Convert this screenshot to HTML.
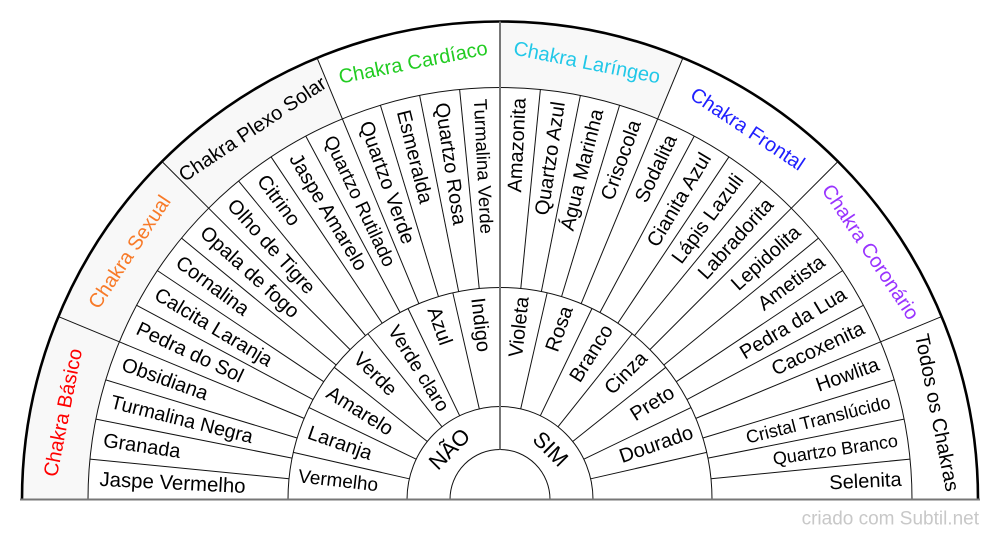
<!DOCTYPE html>
<html>
<head>
<meta charset="utf-8">
<style>
html,body{margin:0;padding:0;background:#fff;}
svg{display:block;}
text{font-family:"Liberation Sans",Arial,sans-serif;dominant-baseline:central;}
</style>
</head>
<body>
<svg width="1000" height="540" viewBox="0 0 1000 540" xmlns="http://www.w3.org/2000/svg">
<rect width="1000" height="540" fill="#fff"/>
<g transform="translate(500,499.5)">
  <!-- gray chakra sectors -->
  <path d="M -445 0 A 445 445 0 0 1 -170.30 -411.13" fill="none" stroke="#f8f8f8" stroke-width="66"/>
  <path d="M -445 0 A 445 445 0 0 1 -411.13 -170.30" transform="rotate(90)" fill="none" stroke="#f8f8f8" stroke-width="66"/>

  <!-- arcs -->
  <g fill="none" stroke="#111" stroke-width="1">
    <path d="M -412 0 A 412 412 0 0 1 412 0"/>
    <path d="M -212 0 A 212 212 0 0 1 212 0"/>
    <path d="M -93 0 A 93 93 0 0 1 93 0"/>
    <path d="M -50 0 A 50 50 0 0 1 50 0"/>
  </g>
  <path d="M -478 0 A 478 478 0 0 1 478 0" fill="none" stroke="#000" stroke-width="2.6"/>

  <!-- chakra boundaries -->
  <g stroke="#111" stroke-width="1">
    <line x1="-412" y1="0" x2="-478" y2="0" transform="rotate(22.5)"/>
    <line x1="-412" y1="0" x2="-478" y2="0" transform="rotate(45)"/>
    <line x1="-412" y1="0" x2="-478" y2="0" transform="rotate(67.5)"/>
    <line x1="-412" y1="0" x2="-478" y2="0" transform="rotate(112.5)"/>
    <line x1="-412" y1="0" x2="-478" y2="0" transform="rotate(135)"/>
    <line x1="-412" y1="0" x2="-478" y2="0" transform="rotate(157.5)"/>
  </g>

  <!-- stone boundaries -->
  <g stroke="#111" stroke-width="1">
    <line x1="-212" y1="0" x2="-412" y2="0" transform="rotate(5.625)"/>
    <line x1="-212" y1="0" x2="-412" y2="0" transform="rotate(11.25)"/>
    <line x1="-212" y1="0" x2="-412" y2="0" transform="rotate(16.875)"/>
    <line x1="-212" y1="0" x2="-412" y2="0" transform="rotate(22.5)"/>
    <line x1="-212" y1="0" x2="-412" y2="0" transform="rotate(28.125)"/>
    <line x1="-212" y1="0" x2="-412" y2="0" transform="rotate(33.75)"/>
    <line x1="-212" y1="0" x2="-412" y2="0" transform="rotate(39.375)"/>
    <line x1="-212" y1="0" x2="-412" y2="0" transform="rotate(45)"/>
    <line x1="-212" y1="0" x2="-412" y2="0" transform="rotate(50.625)"/>
    <line x1="-212" y1="0" x2="-412" y2="0" transform="rotate(56.25)"/>
    <line x1="-212" y1="0" x2="-412" y2="0" transform="rotate(61.875)"/>
    <line x1="-212" y1="0" x2="-412" y2="0" transform="rotate(67.5)"/>
    <line x1="-212" y1="0" x2="-412" y2="0" transform="rotate(73.125)"/>
    <line x1="-212" y1="0" x2="-412" y2="0" transform="rotate(78.75)"/>
    <line x1="-212" y1="0" x2="-412" y2="0" transform="rotate(84.375)"/>
    <line x1="-212" y1="0" x2="-412" y2="0" transform="rotate(95.625)"/>
    <line x1="-212" y1="0" x2="-412" y2="0" transform="rotate(101.25)"/>
    <line x1="-212" y1="0" x2="-412" y2="0" transform="rotate(106.875)"/>
    <line x1="-212" y1="0" x2="-412" y2="0" transform="rotate(112.5)"/>
    <line x1="-212" y1="0" x2="-412" y2="0" transform="rotate(118.125)"/>
    <line x1="-212" y1="0" x2="-412" y2="0" transform="rotate(123.75)"/>
    <line x1="-212" y1="0" x2="-412" y2="0" transform="rotate(129.375)"/>
    <line x1="-212" y1="0" x2="-412" y2="0" transform="rotate(135)"/>
    <line x1="-212" y1="0" x2="-412" y2="0" transform="rotate(140.625)"/>
    <line x1="-212" y1="0" x2="-412" y2="0" transform="rotate(146.25)"/>
    <line x1="-212" y1="0" x2="-412" y2="0" transform="rotate(151.875)"/>
    <line x1="-212" y1="0" x2="-412" y2="0" transform="rotate(157.5)"/>
    <line x1="-212" y1="0" x2="-412" y2="0" transform="rotate(163.125)"/>
    <line x1="-212" y1="0" x2="-412" y2="0" transform="rotate(168.75)"/>
    <line x1="-212" y1="0" x2="-412" y2="0" transform="rotate(174.375)"/>
  </g>

  <!-- color boundaries -->
  <g stroke="#111" stroke-width="1">
    <line x1="-93" y1="0" x2="-212" y2="0" transform="rotate(12.857)"/>
    <line x1="-93" y1="0" x2="-212" y2="0" transform="rotate(25.714)"/>
    <line x1="-93" y1="0" x2="-212" y2="0" transform="rotate(38.571)"/>
    <line x1="-93" y1="0" x2="-212" y2="0" transform="rotate(51.429)"/>
    <line x1="-93" y1="0" x2="-212" y2="0" transform="rotate(64.286)"/>
    <line x1="-93" y1="0" x2="-212" y2="0" transform="rotate(77.143)"/>
    <line x1="-93" y1="0" x2="-212" y2="0" transform="rotate(102.857)"/>
    <line x1="-93" y1="0" x2="-212" y2="0" transform="rotate(115.714)"/>
    <line x1="-93" y1="0" x2="-212" y2="0" transform="rotate(128.571)"/>
    <line x1="-93" y1="0" x2="-212" y2="0" transform="rotate(141.429)"/>
    <line x1="-93" y1="0" x2="-212" y2="0" transform="rotate(154.286)"/>
    <line x1="-93" y1="0" x2="-212" y2="0" transform="rotate(167.143)"/>
  </g>

  <!-- vertical center line and baseline -->
  <line x1="0" y1="-50" x2="0" y2="-478" stroke="#777" stroke-width="2"/>
  <line x1="-480" y1="0" x2="480" y2="0" stroke="#777" stroke-width="2"/>

  <!-- chakra labels -->
  <g font-size="20" text-anchor="middle">
    <text x="0" y="-445" transform="rotate(-78.75)" fill="#ff0000">Chakra Básico</text>
    <text x="0" y="-445" transform="rotate(-56.25)" fill="#f87a28">Chakra Sexual</text>
    <text x="0" y="-445" transform="rotate(-33.75)" fill="#000">Chakra Plexo Solar</text>
    <text x="0" y="-445" transform="rotate(-11.25)" fill="#22cc22">Chakra Cardíaco</text>
    <text x="0" y="-445" transform="rotate(11.25)" fill="#22c8e8">Chakra Laríngeo</text>
    <text x="0" y="-445" transform="rotate(33.75)" fill="#2020ff">Chakra Frontal</text>
    <text x="0" y="-445" transform="rotate(56.25)" fill="#9933ff">Chakra Coronário</text>
    <text x="0" y="-445" transform="rotate(78.75)" fill="#000">Todos os Chakras</text>
  </g>

  <!-- stones left -->
  <g font-size="20" fill="#000" text-anchor="start">
    <text x="-401" y="0" transform="rotate(2.8125)" font-size="20.4">Jaspe Vermelho</text>
    <text x="-401" y="0" transform="rotate(8.4375)">Granada</text>
    <text x="-401" y="0" transform="rotate(14.0625)" font-size="19.7">Turmalina Negra</text>
    <text x="-401" y="0" transform="rotate(19.6875)">Obsidiana</text>
    <text x="-401" y="0" transform="rotate(25.3125)">Pedra do Sol</text>
    <text x="-401" y="0" transform="rotate(30.9375)">Calcita Laranja</text>
    <text x="-401" y="0" transform="rotate(36.5625)">Cornalina</text>
    <text x="-401" y="0" transform="rotate(42.1875)">Opala de fogo</text>
    <text x="-401" y="0" transform="rotate(47.8125)">Olho de Tigre</text>
    <text x="-401" y="0" transform="rotate(53.4375)">Citrino</text>
    <text x="-401" y="0" transform="rotate(59.0625)">Jaspe Amarelo</text>
    <text x="-401" y="0" transform="rotate(64.6875)" font-size="19">Quartzo Rutilado</text>
    <text x="-401" y="0" transform="rotate(70.3125)">Quartzo Verde</text>
    <text x="-401" y="0" transform="rotate(75.9375)">Esmeralda</text>
    <text x="-401" y="0" transform="rotate(81.5625)">Quartzo Rosa</text>
    <text x="-401" y="0" transform="rotate(87.1875)" font-size="18.5">Turmalina Verde</text>
  </g>

  <!-- stones right -->
  <g font-size="20" fill="#000" text-anchor="end">
    <text x="402" y="0" transform="rotate(-87.1875)">Amazonita</text>
    <text x="402" y="0" transform="rotate(-81.5625)">Quartzo Azul</text>
    <text x="402" y="0" transform="rotate(-75.9375)">Água Marinha</text>
    <text x="402" y="0" transform="rotate(-70.3125)">Crisocola</text>
    <text x="402" y="0" transform="rotate(-64.6875)">Sodalita</text>
    <text x="402" y="0" transform="rotate(-59.0625)">Cianita Azul</text>
    <text x="402" y="0" transform="rotate(-53.4375)">Lápis Lazuli</text>
    <text x="402" y="0" transform="rotate(-47.8125)">Labradorita</text>
    <text x="402" y="0" transform="rotate(-42.1875)">Lepidolita</text>
    <text x="402" y="0" transform="rotate(-36.5625)">Ametista</text>
    <text x="402" y="0" transform="rotate(-30.9375)">Pedra da Lua</text>
    <text x="402" y="0" transform="rotate(-25.3125)">Cacoxenita</text>
    <text x="402" y="0" transform="rotate(-19.6875)">Howlita</text>
    <text x="402" y="0" transform="rotate(-14.0625)" font-size="18">Cristal Translúcido</text>
    <text x="402" y="0" transform="rotate(-8.4375)" font-size="18">Quartzo Branco</text>
    <text x="402" y="0" transform="rotate(-2.8125)">Selenita</text>
  </g>

  <!-- colors left -->
  <g font-size="20" fill="#000" text-anchor="start">
    <text x="-203" y="0" transform="rotate(6.4286)" font-size="19">Vermelho</text>
    <text x="-203" y="0" transform="rotate(19.2857)">Laranja</text>
    <text x="-203" y="0" transform="rotate(32.1429)">Amarelo</text>
    <text x="-203" y="0" transform="rotate(45)">Verde</text>
    <text x="-203" y="0" transform="rotate(57.857)" font-size="19.3">Verde claro</text>
    <text x="-203" y="0" transform="rotate(70.714)">Azul</text>
    <text x="-203" y="0" transform="rotate(83.571)">Indigo</text>
  </g>

  <!-- colors right -->
  <g font-size="20" fill="#000" text-anchor="end">
    <text x="204" y="0" transform="rotate(-83.571)">Violeta</text>
    <text x="204" y="0" transform="rotate(-70.714)">Rosa</text>
    <text x="204" y="0" transform="rotate(-57.857)">Branco</text>
    <text x="204" y="0" transform="rotate(-45)">Cinza</text>
    <text x="204" y="0" transform="rotate(-32.143)">Preto</text>
    <text x="204" y="0" transform="rotate(-19.286)">Dourado</text>
  </g>

  <!-- NÃO / SIM -->
  <g font-size="22" fill="#000" text-anchor="middle">
    <text x="0" y="-71.5" transform="rotate(-45)">NÃO</text>
    <text x="0" y="-71.5" transform="rotate(45)">SIM</text>
  </g>
</g>

<text x="979" y="519" font-size="19" fill="#c8c8c8" text-anchor="end">criado com Subtil.net</text>
</svg>
</body>
</html>
